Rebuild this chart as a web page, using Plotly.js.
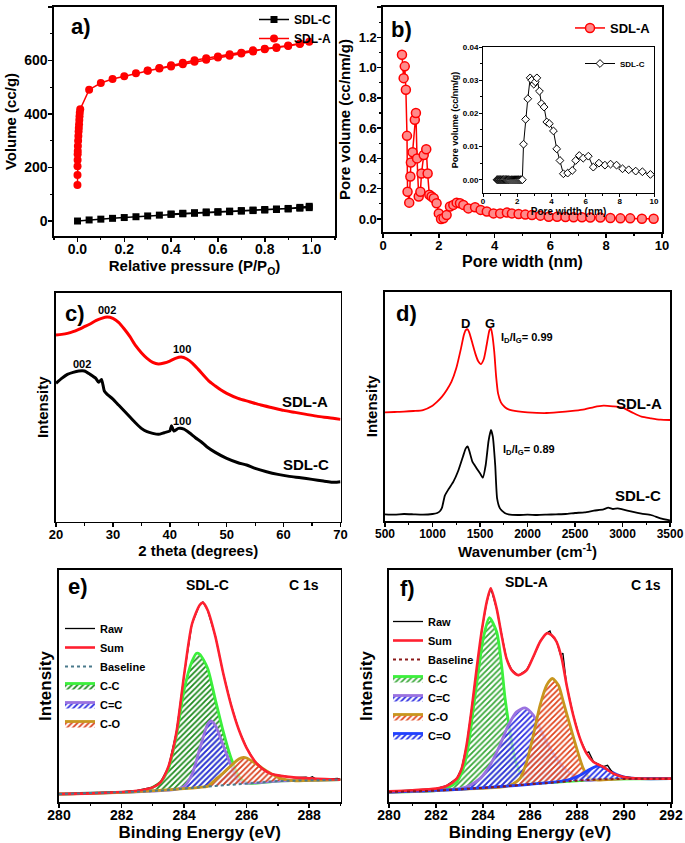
<!DOCTYPE html>
<html><head><meta charset="utf-8">
<script src="https://cdn.plot.ly/plotly-3.0.1.min.js"></script>
<style>html,body{margin:0;padding:0;background:#fff}</style>
</head><body><div id="chart" style="width:685px;height:843px"></div>
<script>
// ---------- (a) N2 isotherms ----------
const isoPA_ads = [0.0001,0.0003,0.0005,0.0008,0.001,0.0015,0.002,0.003,0.004,0.005,0.006,0.007,0.008,0.009,0.010,0.012,0.05,0.10,0.15,0.20,0.25,0.30,0.35,0.40,0.45,0.50,0.55,0.60,0.65,0.70,0.75,0.80,0.85,0.90,0.95,0.99];
const sdlA_ads  = [135,172,205,228,250,262,280,300,318,335,348,362,378,392,405,418,491,516,531,541,552,563,572,582,592,601,608,615,623,629,638,642,647,654,662,670];
const isoPA_des = [0.95,0.90,0.85,0.80,0.75,0.70,0.65,0.60,0.55,0.50,0.45,0.40,0.35,0.30];
const sdlA_des  = [664,656,650,644,634,626,618,611,603,595,586,578,570,562];
const isoPC_ads = [0.0005,0.05,0.10,0.15,0.20,0.25,0.30,0.35,0.40,0.45,0.50,0.55,0.60,0.65,0.70,0.75,0.80,0.85,0.90,0.95,0.99];
const sdlC_ads  = [0,4,7,10,13,16,19,22,25,27,29,31,33,35,37,39,41,43,45,48,50];
const isoPC_des = [0.99,0.95,0.90,0.85,0.80,0.75,0.70,0.65,0.60,0.55,0.50,0.45,0.40];
const sdlC_des  = [55,51,47,45,43,41,39,37,35,34,31,29,26];

// ---------- (b) pore size distribution ----------
const psdA_w = [0.68,0.74,0.78,0.82,0.86,0.88,0.94,0.98,1.00,1.06,1.14,1.18,1.22,1.28,1.34,1.38,1.46,1.55,1.60,1.66,1.74,1.82,1.92,2.00,2.08,2.17,2.28,2.40,2.52,2.64,2.76,2.88,3.06,3.30,3.50,3.72,3.96,4.20,4.44,4.62,4.86,5.10,5.34,5.64,5.94,6.24,6.54,6.83,7.13,7.43,7.79,8.15,8.51,8.86,9.28,9.70];
const psdA_v = [1.085,0.93,1.008,0.853,0.549,0.18,0.108,0.28,0.373,0.441,0.655,0.70,0.40,0.148,0.18,0.30,0.423,0.46,0.30,0.16,0.148,0.137,0.104,0.037,0.0,0.004,0.026,0.082,0.093,0.108,0.104,0.093,0.07,0.077,0.06,0.049,0.037,0.037,0.042,0.037,0.033,0.029,0.026,0.022,0.015,0.015,0.013,0.011,0.011,0.009,0.009,0.007,0.004,0.004,0.002,0.002];
const psdC_w = [0.82,0.86,0.90,0.94,0.98,1.02,1.06,1.10,1.14,1.18,1.22,1.27,1.32,1.37,1.42,1.47,1.52,1.58,1.64,1.70,1.76,1.82,1.88,1.94,2.00,2.06,2.12,2.18,2.24,2.30,2.37,2.49,2.62,2.76,2.85,2.97,3.06,3.15,3.30,3.42,3.57,3.73,3.88,4.12,4.31,4.50,4.70,4.95,5.22,5.42,5.63,5.86,6.16,6.45,6.78,7.13,7.46,7.81,8.16,8.52,8.93,9.32,9.79];
const psdC_v = [0,0,0,0,0,0,0,0,0,0,0,0,0,0,0,0,0,0,0,0,0,0,0,0,0,0,0,0,0,0,0.0107,0.0182,0.0244,0.0307,0.0300,0.0288,0.0295,0.0307,0.0267,0.0229,0.0219,0.0174,0.0169,0.0147,0.0093,0.0058,0.0018,0.0020,0.0028,0.0058,0.0073,0.0065,0.0071,0.0038,0.0050,0.0044,0.0047,0.0044,0.0033,0.0030,0.0026,0.0024,0.0016];

// ---------- (c) XRD ----------
const xrdA_2t = [20,21,22,23,24,25,26,27,28,29,30,31,32,33,34,35,36,37,38,39,40,41,42,43,44,45,46,47,48,49,50,52,54,56,58,60,62,64,66,68,70];
const xrdA_I  = [560,562,565,570,577,585,593,603,610,614,610,598,578,555,528,507,490,478,473,476,482,490,494,488,475,457,438,420,407,395,385,370,360,350,342,334,328,322,316,312,307];
const xrdC_2t = [20,21,22,23,24,25,26,27,27.5,28,28.5,29,30,31,32,33,34,35,36,37,38,39,40,40.3,40.7,41.5,42.5,43.5,44.5,45.5,46.5,48,50,52,53.5,55,57,59,61,63,65,67,69,70];
const xrdC_I  = [415,430,442,448,452,452,442,430,418,427,392,382,368,350,332,314,296,280,270,265,262,267,272,288,272,280,278,266,252,240,225,208,190,177,170,160,150,142,136,132,127,122,118,120];

// ---------- (d) Raman ----------
const ramA_k = [500,600,700,800,900,1000,1050,1100,1150,1200,1250,1300,1330,1350,1370,1390,1420,1450,1480,1510,1540,1570,1600,1615,1630,1650,1670,1690,1720,1760,1800,1900,2000,2200,2400,2500,2600,2700,2800,2900,3000,3100,3200,3300,3400,3500];
const ramA_I = [326,327,328,330,333,346,358,373,393,418,458,518,558,573,575,563,533,503,480,471,486,528,573,578,558,508,433,383,356,342,335,329,326,324,328,331,335,342,346,344,340,326,313,308,304,303];
const ramC_k = [500,600,700,800,900,1000,1050,1080,1100,1130,1170,1220,1270,1320,1350,1370,1390,1420,1460,1500,1530,1560,1590,1615,1635,1660,1680,1710,1760,1800,1900,2000,2100,2200,2300,2400,2500,2600,2700,2800,2850,2900,2950,3000,3100,3200,3300,3400,3500];
const ramC_I = [20,19,21,20,19,21,24,30,40,76,96,118,150,193,218,224,208,178,160,143,130,168,240,273,253,168,68,38,24,20,18,19,18,19,20,21,24,26,31,35,40,36,38,35,28,22,18,8,2];

// ---------- (e) XPS C1s SDL-C ----------
const eBase_x = [280,281,282,282.5,283,283.5,284,284.5,285,285.5,286,286.5,287,287.5,288,288.5,289];
const eBase_y = [24,26,29,31,33,36,40,44,48,52,57,61,63,64,65,66,67];
const eSum_x  = [280,281,282,282.5,283,283.25,283.5,283.75,284,284.25,284.5,284.6,284.75,285,285.25,285.5,285.75,286,286.25,286.5,286.75,287,287.5,288,288.5,289];
const eSum_y  = [24,26,30,34,44,60,107,207,382,534,592,599,577,497,387,292,217,162,124,100,86,80,74,71,69,67];
const eRaw_x  = [280,281,282,282.5,283,283.25,283.5,283.75,284,284.25,284.5,284.6,284.75,285,285.25,285.5,285.75,286,286.25,286.5,286.75,287,287.5,287.9,288,288.1,288.2,288.5,288.9,289];
const eRaw_y  = [24,27,30,35,45,60,106,208,381,535,593,601,576,498,386,293,216,163,123,101,85,81,73,75,72,76,70,68,71,67];
const eCC_x   = [280,282,282.5,282.75,283,283.25,283.5,283.75,284,284.25,284.4,284.5,284.75,285,285.25,285.5,285.75,286,287,289];
const eCC_y   = [24,29,31,34,44,60,100,197,337,422,447,444,402,307,212,132,77,57,63,67];
const eCdC_x  = [280,282,283,283.75,284,284.25,284.5,284.75,284.85,285,285.25,285.5,285.75,286,287,289];
const eCdC_y  = [24,29,33,38,47,82,160,234,244,230,170,110,62,57,63,67];
const eCO_x   = [280,282,284,284.5,284.75,285,285.25,285.5,285.75,285.9,286,286.25,286.5,286.75,287,287.25,287.5,288,289];
const eCO_y   = [24,29,40,44,47,67,87,109,129,134,132,118,102,87,74,67,64,65,67];

// ---------- (f) XPS C1s SDL-A ----------
const fBase_x = [280,281,282,283,284,285,286,287,288,289,290,291,292];
const fBase_y = [30,31,34,38,42,47,53,59,64,68,70,70,70];
const fSum_x  = [280,281,282,282.45,282.88,283.09,283.3,283.52,283.73,283.94,284.16,284.33,284.58,284.79,285.0,285.22,285.5,285.86,286.14,286.43,286.71,286.92,287.13,287.35,287.56,287.84,288.13,288.41,288.7,289.12,289.55,289.97,290.68,292];
const fSum_y  = [32,35,40,48,70,100,170,280,400,510,600,640,580,500,430,395,380,395,435,480,505,500,480,430,350,260,190,145,120,105,85,75,70,70];
const fRaw_x  = [280,281,282,282.45,282.88,283.09,283.3,283.52,283.73,283.94,284.16,284.33,284.58,284.79,285.0,285.22,285.5,285.86,286.14,286.43,286.71,286.85,286.92,287.13,287.3,287.4,287.56,287.84,288.13,288.41,288.5,288.7,289.12,289.3,289.55,289.97,290.68,292];
const fRaw_y  = [32,36,40,49,70,101,169,281,399,511,599,641,579,501,429,396,379,396,434,481,506,512,498,481,440,446,349,261,189,147,150,121,106,110,84,76,70,70];
const fCC_x   = [280,282,282.45,282.88,283.16,283.38,283.59,283.8,284.01,284.27,284.58,284.79,284.94,285.15,285.36,285.65,285.93,287,289,292];
const fCC_y   = [30,34,42,60,100,170,280,390,490,552,510,410,310,210,130,80,60,59,68,70];
const fCdC_x  = [280,282,283.16,283.45,283.87,284.3,284.72,285.08,285.43,285.79,286.14,286.43,286.71,287.13,287.56,287.99,288.41,289,290,292];
const fCdC_y  = [30,34,42,50,70,110,170,230,270,282,260,220,180,130,95,75,65,68,70,70];
const fCO_x   = [280,283,285,285.29,285.57,285.86,286.14,286.43,286.71,286.95,287.21,287.42,287.7,287.99,288.27,288.55,288.84,290,292];
const fCO_y   = [30,38,47,55,70,120,200,290,350,370,350,300,230,160,100,70,66,70,70];
const fCdO_x  = [280,283,286,287.13,287.7,288.13,288.55,288.91,289.26,289.69,290.11,290.68,292];
const fCdO_y  = [30,38,53,60,68,80,98,108,98,82,73,70,70];

// ================= layout helpers =================
const W = 685, H = 843;
const xd = (l, r) => [l / W, r / W];
const yd = (t, b) => [1 - b / H, 1 - t / H];
const FONT = 'Liberation Sans, Arial, sans-serif';

function axis(domain, range, anchor, extra) {
  return Object.assign({
    domain: domain, range: range, anchor: anchor,
    showline: true, mirror: true, linecolor: '#000', linewidth: 1.6,
    ticks: 'outside', ticklen: 4, tickwidth: 1.5, tickcolor: '#000',
    showgrid: false, zeroline: false,
    minor: {ticks: 'outside', ticklen: 2.5, tickwidth: 1.2, tickcolor: '#000'}
  }, extra);
}
function noTicks(extra) {
  return Object.assign({ticks: '', showticklabels: false, minor: {ticks: ''}}, extra);
}
function ttl(text, size, standoff) {
  return {text: text, font: {size: size, family: FONT, weight: 'bold'}, standoff: standoff};
}
function ann(xr, yr, x, y, text, size, extra) {
  return Object.assign({xref: xr, yref: yr, x: x, y: y, text: text, showarrow: false,
    xanchor: 'center', yanchor: 'middle',
    font: {size: size, family: FONT, weight: 'bold', color: '#000'}}, extra);
}

const traces = [];
// (a)
traces.push({x: isoPC_ads.concat(isoPC_des), y: sdlC_ads.concat(sdlC_des), xaxis: 'x', yaxis: 'y',
  mode: 'lines+markers', name: 'SDL-C', legend: 'legend',
  line: {color: '#000', width: 1.5}, marker: {symbol: 'square', size: 7, color: '#000'}});
traces.push({x: isoPA_ads.concat(isoPA_des), y: sdlA_ads.concat(sdlA_des), xaxis: 'x', yaxis: 'y',
  mode: 'lines+markers', name: 'SDL-A', legend: 'legend',
  line: {color: '#ff0000', width: 1.5}, marker: {symbol: 'circle', size: 8, color: '#ff0000'}});
// (b)
traces.push({x: psdA_w, y: psdA_v, xaxis: 'x2', yaxis: 'y2', mode: 'lines+markers', name: 'SDL-A', legend: 'legend2',
  line: {color: '#ff0000', width: 1.5}, marker: {symbol: 'circle', size: 9, color: '#ff8a8a', line: {color: '#ff0000', width: 1.5}}});
traces.push({x: psdC_w, y: psdC_v, xaxis: 'x3', yaxis: 'y3', mode: 'lines+markers', name: 'SDL-C', legend: 'legend3',
  line: {color: '#000', width: 1}, marker: {symbol: 'diamond', size: 6, color: '#fff', line: {color: '#000', width: 1}}});
// (c)
traces.push({x: xrdA_2t, y: xrdA_I, xaxis: 'x4', yaxis: 'y4', mode: 'lines', name: 'SDL-A', showlegend: false,
  line: {color: '#ff0000', width: 3, shape: 'spline', smoothing: 0.6}});
traces.push({x: xrdC_2t, y: xrdC_I, xaxis: 'x4', yaxis: 'y4', mode: 'lines', name: 'SDL-C', showlegend: false,
  line: {color: '#000', width: 3, shape: 'spline', smoothing: 0.5}});
// (d)
traces.push({x: ramA_k, y: ramA_I, xaxis: 'x5', yaxis: 'y5', mode: 'lines', name: 'SDL-A', showlegend: false,
  line: {color: '#ff0000', width: 1.8, shape: 'spline', smoothing: 0.6}});
traces.push({x: ramC_k, y: ramC_I, xaxis: 'x5', yaxis: 'y5', mode: 'lines', name: 'SDL-C', showlegend: false,
  line: {color: '#000', width: 1.8, shape: 'spline', smoothing: 0.5}});

// XPS helper: component filled (hatched) down to its baseline
function comp(bx, by, cx, cy, xa, ya, name, lineColor, fg, lg, rank) {
  traces.push({x: bx, y: by, xaxis: xa, yaxis: ya, mode: 'lines', line: {width: 0, color: 'rgba(0,0,0,0)'},
    showlegend: false, hoverinfo: 'skip', legend: lg});
  traces.push({x: cx, y: cy, xaxis: xa, yaxis: ya, mode: 'lines', name: name, legend: lg, legendrank: rank,
    fill: 'tonexty', fillcolor: 'rgba(255,255,255,0)',
    fillpattern: {shape: '/', fgcolor: fg, bgcolor: 'rgba(255,255,255,0.6)', size: 4, solidity: 0.45},
    line: {color: lineColor, width: 2.8, shape: 'spline', smoothing: 0.7}});
}
// (e)
comp(eBase_x, eBase_y, eCC_x, eCC_y, 'x6', 'y6', 'C-C', '#3cf03c', '#1d8a1d', 'legend4', 4);
comp(eBase_x, eBase_y, eCdC_x, eCdC_y, 'x6', 'y6', 'C=C', '#9a72e0', '#2a2ae0', 'legend4', 5);
comp(eBase_x, eBase_y, eCO_x, eCO_y, 'x6', 'y6', 'C-O', '#c8961e', '#d9401c', 'legend4', 6);
traces.push({x: eRaw_x, y: eRaw_y, xaxis: 'x6', yaxis: 'y6', mode: 'lines', name: 'Raw', legend: 'legend4', legendrank: 1,
  line: {color: '#000', width: 1.3}});
traces.push({x: eSum_x, y: eSum_y, xaxis: 'x6', yaxis: 'y6', mode: 'lines', name: 'Sum', legend: 'legend4', legendrank: 2,
  line: {color: '#ff2030', width: 2.6, shape: 'spline', smoothing: 0.7}});
traces.push({x: eBase_x, y: eBase_y, xaxis: 'x6', yaxis: 'y6', mode: 'lines', name: 'Baseline', legend: 'legend4', legendrank: 3,
  line: {color: '#4a7a8c', width: 2, dash: 'dot'}});
// (f)
comp(fBase_x, fBase_y, fCC_x, fCC_y, 'x7', 'y7', 'C-C', '#3cf03c', '#3aa83a', 'legend5', 4);
comp(fBase_x, fBase_y, fCdC_x, fCdC_y, 'x7', 'y7', 'C=C', '#9a72e0', '#2a2ae0', 'legend5', 5);
comp(fBase_x, fBase_y, fCO_x, fCO_y, 'x7', 'y7', 'C-O', '#c8961e', '#e0441c', 'legend5', 6);
comp(fBase_x, fBase_y, fCdO_x, fCdO_y, 'x7', 'y7', 'C=O', '#2040ff', '#1a2ae6', 'legend5', 7);
traces.push({x: fRaw_x, y: fRaw_y, xaxis: 'x7', yaxis: 'y7', mode: 'lines', name: 'Raw', legend: 'legend5', legendrank: 1,
  line: {color: '#000', width: 1.3}});
traces.push({x: fSum_x, y: fSum_y, xaxis: 'x7', yaxis: 'y7', mode: 'lines', name: 'Sum', legend: 'legend5', legendrank: 2,
  line: {color: '#ff2030', width: 2.6, shape: 'spline', smoothing: 0.7}});
traces.push({x: fBase_x, y: fBase_y, xaxis: 'x7', yaxis: 'y7', mode: 'lines', name: 'Baseline', legend: 'legend5', legendrank: 3,
  line: {color: '#8b1a1a', width: 2, dash: 'dot'}});

function legendAt(x, y, xanchor, size) {
  return {x: x, y: y, xanchor: xanchor, yanchor: 'top', xref: 'paper', yref: 'paper',
    bgcolor: 'rgba(0,0,0,0)', borderwidth: 0, itemwidth: 30, tracegroupgap: 0, traceorder: 'normal',
    font: {size: size, family: FONT, weight: 'bold', color: '#000'}};
}
const MINOR = (d) => ({dtick: d, ticks: 'outside', ticklen: 2.5, tickwidth: 1.2, tickcolor: '#000'});

const layout = {
  width: W, height: H, margin: {l: 0, r: 0, t: 0, b: 0},
  paper_bgcolor: '#fff', plot_bgcolor: '#fff', showlegend: true,
  font: {family: FONT, size: 13, color: '#000', weight: 'bold'},
  // (a)
  xaxis: axis(xd(54, 335), [-0.1, 1.1], 'y', {dtick: 0.2, tickformat: '.1f', minor: MINOR(0.1), ticklabelstandoff: -4,
    tickfont: {size: 14}, title: ttl('Relative pressure (P/P<sub>O</sub>)', 15, 2)}),
  yaxis: axis(yd(7, 236), [-56, 800], 'x', {dtick: 200, minor: MINOR(100), ticklabelstandoff: -2,
    tickfont: {size: 14}, title: ttl('Volume (cc/g)', 15, 4)}),
  // (b)
  xaxis2: axis(xd(383, 662), [0, 10], 'y2', {dtick: 2, minor: MINOR(1), ticklabelstandoff: -3,
    tickfont: {size: 13}, title: ttl('Pore width (nm)', 16, 2)}),
  yaxis2: axis(yd(7, 232), [-0.086, 1.4], 'x2', {dtick: 0.2, tickformat: '.1f', minor: MINOR(0.1), ticklabelstandoff: -2,
    tickfont: {size: 13}, title: ttl('Pore volume (cc/nm/g)', 15, 4)}),
  // inset
  xaxis3: axis(xd(483, 654), [0, 10], 'y3', {dtick: 2, linewidth: 1, ticklen: 3, tickwidth: 1, ticklabelstandoff: -3,
    minor: {dtick: 1, ticks: 'outside', ticklen: 2, tickwidth: 1}, tickfont: {size: 8}, title: ttl('Pore width (nm)', 10, 0)}),
  yaxis3: axis(yd(47, 193), [-0.004, 0.04], 'x3', {dtick: 0.01, tickformat: '.2f', linewidth: 1, ticklen: 3, tickwidth: 1, ticklabelstandoff: -1,
    minor: {dtick: 0.005, ticks: 'outside', ticklen: 2, tickwidth: 1}, tickfont: {size: 8}, title: ttl('Pore volume (cc/nm/g)', 9, 2)}),
  // (c)
  xaxis4: axis(xd(56, 340.5), [20, 70], 'y4', {dtick: 10, minor: MINOR(5), ticklabelstandoff: -4,
    tickfont: {size: 13}, title: ttl('2 theta (degrees)', 15, 1)}),
  yaxis4: axis(yd(292.7, 521.7), [0, 687], 'x4', noTicks({title: ttl('Intensity', 15, 2)})),
  // (d)
  xaxis5: axis(xd(385, 670), [500, 3500], 'y5', {dtick: 500, minor: MINOR(250), ticklabelstandoff: -3,
    tickfont: {size: 12}, title: ttl('Wavenumber (cm<sup>-1</sup>)', 15, 1)}),
  yaxis5: axis(yd(291.7, 521), [0, 688], 'x5', noTicks({title: ttl('Intensity', 15, 2)})),
  // (e)
  xaxis6: axis(xd(59, 340.5), [280, 289], 'y6', {dtick: 2, minor: MINOR(1), ticklabelstandoff: -4,
    tickfont: {size: 14}, title: ttl('Binding Energy (eV)', 17, 0)}),
  yaxis6: axis(yd(570, 802), [0, 697], 'x6', noTicks({title: ttl('Intensity', 17, 1)})),
  // (f)
  xaxis7: axis(xd(389, 671), [280, 292], 'y7', {dtick: 2, minor: MINOR(1), ticklabelstandoff: -4,
    tickfont: {size: 14}, title: ttl('Binding Energy (eV)', 17, 0)}),
  yaxis7: axis(yd(570, 802), [0, 695], 'x7', noTicks({title: ttl('Intensity', 17, 10)})),

  legend:  legendAt(336 / W, 1 - 5 / H, 'right', 12),
  legend2: legendAt(656 / W, 1 - 13 / H, 'right', 13),
  legend3: legendAt(650 / W, 1 - 49 / H, 'right', 8),
  legend4: legendAt(60 / W, 1 - 614 / H, 'left', 11),
  legend5: legendAt(388 / W, 1 - 607 / H, 'left', 11),

  annotations: [
    ann('x domain', 'y domain', 0.096, 0.913, 'a)', 22),
    ann('x2 domain', 'y2 domain', 0.068, 0.902, 'b)', 22),
    ann('x4 domain', 'y4 domain', 0.067, 0.907, 'c)', 22),
    ann('x5 domain', 'y5 domain', 0.074, 0.903, 'd)', 22),
    ann('x6 domain', 'y6 domain', 0.067, 0.927, 'e)', 22),
    ann('x7 domain', 'y7 domain', 0.067, 0.922, 'f)', 22),
    ann('x4', 'y4', 29, 634, '002', 11),
    ann('x4', 'y4', 42.1, 517, '100', 11),
    ann('x4', 'y4', 24.5, 473, '002', 11),
    ann('x4', 'y4', 42.1, 303, '100', 11),
    ann('x4', 'y4', 63.8, 362, 'SDL-A', 15),
    ann('x4', 'y4', 64.0, 172, 'SDL-C', 15),
    ann('x5', 'y5', 1351, 593, 'D', 13),
    ann('x5', 'y5', 1608, 593, 'G', 13),
    ann('x5', 'y5', 1700, 548, 'I<sub>D</sub>/I<sub>G</sub>= 0.99', 11, {xanchor: 'left'}),
    ann('x5', 'y5', 1718, 213, 'I<sub>D</sub>/I<sub>G</sub>= 0.89', 11, {xanchor: 'left'}),
    ann('x5', 'y5', 3173, 353, 'SDL-A', 15),
    ann('x5', 'y5', 3163, 76, 'SDL-C', 15),
    ann('x6 domain', 'y6 domain', 0.526, 0.935, 'SDL-C', 14),
    ann('x6 domain', 'y6 domain', 0.870, 0.935, 'C 1s', 14),
    ann('x7 domain', 'y7 domain', 0.489, 0.948, 'SDL-A', 14),
    ann('x7 domain', 'y7 domain', 0.911, 0.935, 'C 1s', 14)
  ]
};

Plotly.newPlot('chart', traces, layout, {displayModeBar: false, staticPlot: true});
</script></body></html>
